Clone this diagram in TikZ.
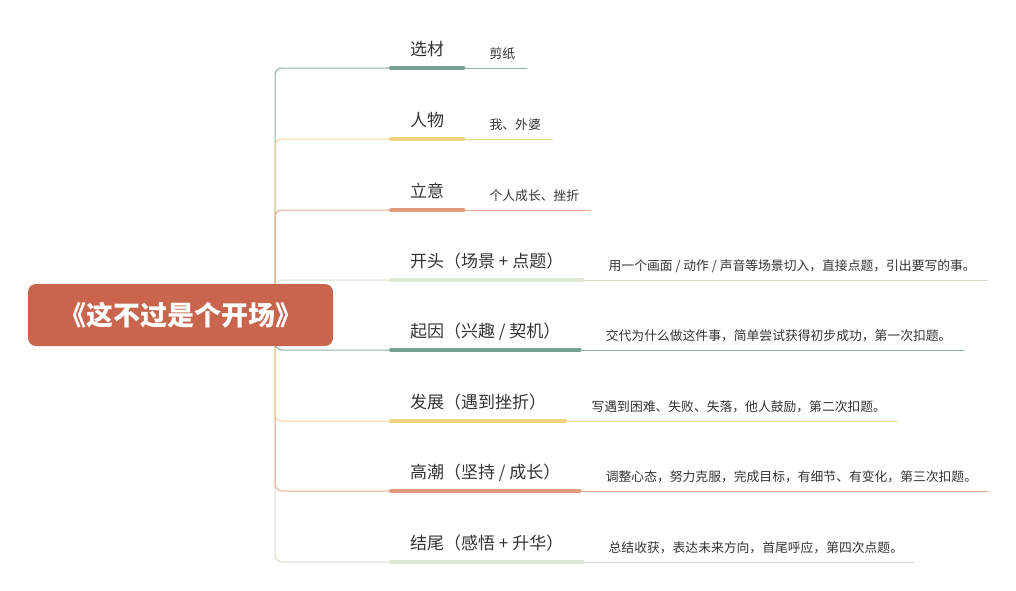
\documentclass[tikz,border=0pt]{standalone}
\usepackage{fontspec}
\setmainfont{Noto Sans CJK SC}
\usepackage{tikz}
\usepackage{xcolor}
\usetikzlibrary{backgrounds}

\definecolor{mossgreen}{HTML}{76A190}
\definecolor{sandyellow}{HTML}{EBD281}
\definecolor{clayorange}{HTML}{E29B7B}
\definecolor{palesage}{HTML}{DEE6D4}
\definecolor{rootred}{HTML}{C8654C}
\definecolor{inkgray}{HTML}{333333}

\tikzset{
  rootbox/.style={fill=rootred, rounded corners=8pt, minimum width=305pt, minimum height=62pt, text=white, font=\fontsize{27}{27}\selectfont\bfseries},
  topic/.style={anchor=south west, inner xsep=19pt, inner ysep=12.5pt, text depth=0pt, text=inkgray, font=\fontsize{17}{17}\selectfont},
  note/.style={anchor=south west, xshift=14pt, inner xsep=12pt, inner ysep=9pt, text depth=0pt, text=inkgray, font=\fontsize{12.8}{12.8}\selectfont},
  stem/.style={line width=1pt, rounded corners=7pt},
  bar/.style={line width=4pt, line cap=round},
  twig/.style={line width=1pt},
}

\begin{document}
\begin{tikzpicture}[x=1pt, y=-1pt]
\useasboundingbox (0,0) rectangle (1016,590);

\coordinate (hub) at (275,315);

\node[topic] (t1) at (391,68) {选材};
\node[topic] (t2) at (391,139) {人物};
\node[topic] (t3) at (391,210) {立意};
\node[topic] (t4) at (391,280) {开头（场景 + 点题）};
\node[topic] (t5) at (391,350) {起因（兴趣 / 契机）};
\node[topic] (t6) at (391,421) {发展（遇到挫折）};
\node[topic] (t7) at (391,491) {高潮（坚持 / 成长）};
\node[topic] (t8) at (391,562) {结尾（感悟 + 升华）};

\node[note] (n1) at (t1.south east) {剪纸};
\node[note] (n2) at (t2.south east) {我、外婆};
\node[note] (n3) at (t3.south east) {个人成长、挫折};
\node[note] (n4) at (t4.south east) {用一个画面 / 动作 / 声音等场景切入，直接点题，引出要写的事。};
\node[note] (n5) at (t5.south east) {交代为什么做这件事，简单尝试获得初步成功，第一次扣题。};
\node[note] (n6) at (t6.south east) {写遇到困难、失败、失落，他人鼓励，第二次扣题。};
\node[note] (n7) at (t7.south east) {调整心态，努力克服，完成目标，有细节、有变化，第三次扣题。};
\node[note] (n8) at (t8.south east) {总结收获，表达未来方向，首尾呼应，第四次点题。};

% branches from the hub, outer ones first
\begin{scope}[on background layer]
\draw[stem, mossgreen!85] (hub) |- (t1.south west);
\draw[stem, sandyellow!85] (hub) |- (t2.south west);
\draw[stem, clayorange!85] (hub) |- (t3.south west);
\draw[stem, palesage!90!gray] (hub) |- (t4.south west);
\draw[stem, palesage!90!gray] (hub) |- (t8.south west);
\draw[stem, clayorange!85] (hub) |- (t7.south west);
\draw[stem, sandyellow!85] (hub) |- (t6.south west);
\draw[stem, mossgreen!85] (hub) |- (t5.south west);
\end{scope}

% underlines
\draw[bar, mossgreen] (t1.south west) -- (t1.south east);
\draw[bar, sandyellow] (t2.south west) -- (t2.south east);
\draw[bar, clayorange] (t3.south west) -- (t3.south east);
\draw[bar, palesage] (t4.south west) -- (t4.south east);
\draw[bar, mossgreen] (t5.south west) -- (t5.south east);
\draw[bar, sandyellow] (t6.south west) -- (t6.south east);
\draw[bar, clayorange] (t7.south west) -- (t7.south east);
\draw[bar, palesage] (t8.south west) -- (t8.south east);

\draw[twig, mossgreen!85] (t1.south east) -- (n1.south east);
\draw[twig, sandyellow!85] (t2.south east) -- (n2.south east);
\draw[twig, clayorange!85] (t3.south east) -- (n3.south east);
\draw[twig, palesage!90!gray] (t4.south east) -- (n4.south east);
\draw[twig, mossgreen!85] (t5.south east) -- (n5.south east);
\draw[twig, sandyellow!85] (t6.south east) -- (n6.south east);
\draw[twig, clayorange!85] (t7.south east) -- (n7.south east);
\draw[twig, palesage!90!gray] (t8.south east) -- (n8.south east);

\node[rootbox] (root) at (180.5,315) {《这不过是个开场》};
\end{tikzpicture}
\end{document}
